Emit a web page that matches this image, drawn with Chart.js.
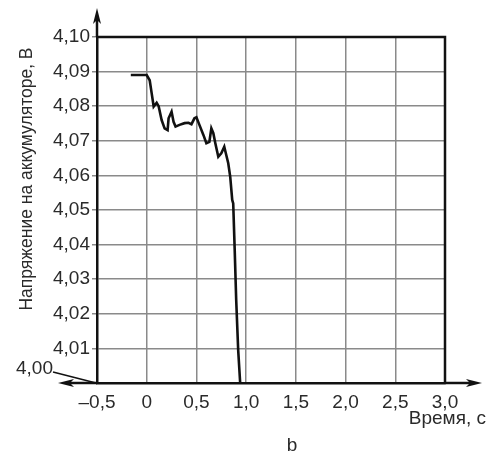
<!DOCTYPE html>
<html>
<head>
<meta charset="utf-8">
<script src="https://cdn.jsdelivr.net/npm/chart.js@4"></script>
<style>
  html, body { margin: 0; padding: 0; background: #fff; }
  canvas { display: block; }
</style>
</head>
<body>
<canvas id="chart" width="494" height="456"></canvas>
<script>
// time, s
const timeS = [-0.16, 0.0, 0.03, 0.05, 0.07, 0.10, 0.12, 0.15, 0.18, 0.21, 0.22, 0.25, 0.27, 0.29,
  0.33, 0.38, 0.42, 0.45, 0.48, 0.50, 0.53, 0.57, 0.60, 0.63, 0.65, 0.67, 0.69, 0.72, 0.75, 0.78,
  0.80, 0.82, 0.84, 0.86, 0.87, 0.885, 0.90, 0.92, 0.94];
// battery voltage, V
const voltage = [4.089, 4.089, 4.0875, 4.0837, 4.0799, 4.081, 4.080, 4.076, 4.0736, 4.0731, 4.0765,
  4.0784, 4.0755, 4.0741, 4.0746, 4.0751, 4.0752, 4.0748, 4.0765, 4.0768, 4.0746, 4.0717, 4.0693,
  4.0697, 4.0736, 4.0722, 4.0693, 4.0654, 4.0664, 4.0683, 4.0659, 4.0635, 4.0596, 4.0529, 4.0519,
  4.0384, 4.024, 4.0095, 4.000];

const yTitle = 'Напряжение на аккумуляторе, В';
const xTitle = 'Время, с';
const caption = 'b';

const FONT = "'Liberation Sans', Arial, sans-serif";
Chart.defaults.font.family = FONT;
Chart.defaults.color = '#2a2a2a';

function fmtX(v) {
  if (Math.abs(v) < 1e-9) return '0';
  const s = Math.abs(v).toFixed(1).replace('.', ',');
  return v < 0 ? '\u2013' + s : s;
}

function arrow(ctx, x1, y1, x2, y2) {
  // line from (x1,y1) to tip (x2,y2) with filled head
  const ang = Math.atan2(y2 - y1, x2 - x1);
  const len = 16, hw = 4;
  ctx.beginPath();
  ctx.moveTo(x1, y1);
  ctx.lineTo(x2 - Math.cos(ang) * len * 0.6, y2 - Math.sin(ang) * len * 0.6);
  ctx.stroke();
  ctx.beginPath();
  ctx.moveTo(x2, y2);
  ctx.lineTo(x2 - Math.cos(ang) * len - Math.sin(ang) * hw, y2 - Math.sin(ang) * len + Math.cos(ang) * hw);
  ctx.lineTo(x2 - Math.cos(ang) * len * 0.75, y2 - Math.sin(ang) * len * 0.75);
  ctx.lineTo(x2 - Math.cos(ang) * len + Math.sin(ang) * hw, y2 - Math.sin(ang) * len - Math.cos(ang) * hw);
  ctx.closePath();
  ctx.fill();
}

const extras = {
  id: 'extras',
  afterDraw(chart) {
    const ctx = chart.ctx;
    const a = chart.chartArea;
    const y = chart.scales.y;
    ctx.save();
    ctx.strokeStyle = '#111';
    ctx.fillStyle = '#111';
    ctx.lineWidth = 2.5;
    // top and right frame
    ctx.beginPath();
    ctx.moveTo(a.left, a.top);
    ctx.lineTo(a.right, a.top);
    ctx.lineTo(a.right, a.bottom);
    ctx.stroke();
    // axis arrows
    arrow(ctx, a.left, a.top, a.left, 8);
    arrow(ctx, a.right, a.bottom, 482, a.bottom);
    arrow(ctx, a.left, a.bottom, 58, a.bottom);
    // 4,00 label with leader
    const y0 = y.getPixelForValue(4.0);
    ctx.lineWidth = 1.5;
    ctx.beginPath();
    ctx.moveTo(53, y0 - 11);
    ctx.lineTo(a.left - 1, y0);
    ctx.stroke();
    ctx.fillStyle = '#2a2a2a';
    ctx.font = '19px ' + FONT;
    ctx.textAlign = 'right';
    ctx.textBaseline = 'middle';
    ctx.fillText('4,00', 53, y0 - 14);
    // x title
    ctx.font = '19px ' + FONT;
    ctx.fillText(xTitle, 486, 419);
    // caption
    ctx.textAlign = 'center';
    ctx.fillText(caption, 292, 446);
    // y title
    ctx.font = '17.5px ' + FONT;
    ctx.translate(27, 179);
    ctx.rotate(-Math.PI / 2);
    ctx.fillText(yTitle, 0, 0);
    ctx.restore();
  }
};

new Chart(document.getElementById('chart').getContext('2d'), {
  type: 'line',
  data: {
    datasets: [{
      data: timeS.map((t, i) => ({ x: t, y: voltage[i] })),
      borderColor: '#111',
      borderWidth: 2.6,
      pointRadius: 0,
      tension: 0,
      fill: false,
      clip: false
    }]
  },
  options: {
    responsive: false,
    animation: false,
    layout: { padding: { top: 37, right: 49, left: 0, bottom: 0 } },
    plugins: { legend: { display: false }, tooltip: { enabled: false } },
    scales: {
      x: {
        type: 'linear',
        min: -0.5,
        max: 3.0,
        afterFit(scale) { scale.height = 73; },
        border: { color: '#111', width: 2.5 },
        grid: { color: '#8a8a8a', lineWidth: 1.5, drawTicks: false },
        ticks: {
          stepSize: 0.5,
          padding: 8,
          font: { size: 19 },
          callback: v => fmtX(v)
        }
      },
      y: {
        type: 'linear',
        min: 4.0,
        max: 4.1,
        afterFit(scale) { scale.width = 97; },
        border: { color: '#111', width: 2.5 },
        grid: { color: '#8a8a8a', lineWidth: 1.5, tickLength: 5 },
        ticks: {
          stepSize: 0.01,
          padding: 2,
          font: { size: 19 },
          callback: v => (Math.abs(v - 4.0) < 1e-6 ? '' : v.toFixed(2).replace('.', ','))
        }
      }
    }
  },
  plugins: [extras]
});
</script>
</body>
</html>
